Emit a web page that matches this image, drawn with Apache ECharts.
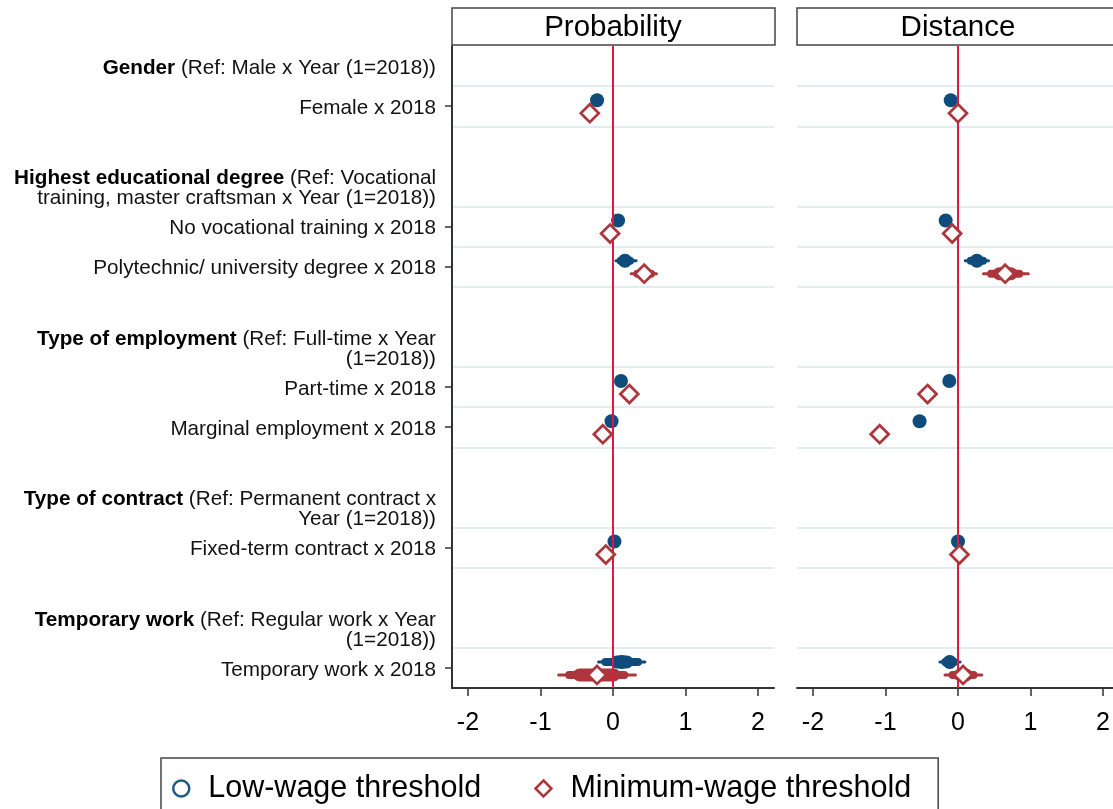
<!DOCTYPE html>
<html><head><meta charset="utf-8">
<script src="https://cdn.jsdelivr.net/npm/echarts@6/dist/echarts.min.js"></script>
<style>html,body{margin:0;padding:0;background:#fff}#c{width:1113px;height:809px}#err{position:absolute;left:0;top:0;font:11px monospace;color:#c00;white-space:pre;z-index:9}</style>
</head><body><div id="c"></div><div id="err"></div>
<script>
window.onerror = function (m, s, l, c, e) { document.getElementById('err').textContent += (e && e.stack ? e.stack : m) + '\n'; };
// ---------- data ----------
const panelTitles = ['Probability', 'Distance'];
const seriesNames = ['Low-wage threshold', 'Minimum-wage threshold'];
const groupTitles = ['Gender', 'Highest educational degree', 'Type of employment', 'Type of contract', 'Temporary work'];
const groupRefs = [
  '(Ref: Male x Year (1=2018))',
  '(Ref: Vocational\ntraining, master craftsman x Year (1=2018))',
  '(Ref: Full-time x Year\n(1=2018))',
  '(Ref: Permanent contract x\nYear (1=2018))',
  '(Ref: Regular work x Year\n(1=2018))'
];
const groupVars = [
  ['Female x 2018'],
  ['No vocational training x 2018', 'Polytechnic/ university degree x 2018'],
  ['Part-time x 2018', 'Marginal employment x 2018'],
  ['Fixed-term contract x 2018'],
  ['Temporary work x 2018']
];
const xTicks = [-2, -1, 0, 1, 2];
const refLine = 0;

// point estimates, one per variable row (order as listed above)
const probLow = [-0.22, 0.07, 0.165, 0.11, -0.02, 0.02, 0.12];
const probMin = [-0.32, -0.04, 0.43, 0.225, -0.14, -0.10, -0.22];
const distLow = [-0.10, -0.17, 0.26, -0.12, -0.53, 0.00, -0.115];
const distMin = [0.00, -0.08, 0.65, -0.42, -1.08, 0.02, 0.07];

// confidence intervals [lo99, lo95, lo90, hi90, hi95, hi99]
const probLowCI = [
  [-0.27, -0.26, -0.25, -0.19, -0.18, -0.17],
  [0.03, 0.04, 0.05, 0.09, 0.10, 0.11],
  [0.02, 0.05, 0.08, 0.26, 0.29, 0.34],
  [0.07, 0.08, 0.09, 0.13, 0.14, 0.15],
  [-0.06, -0.05, -0.04, 0.00, 0.01, 0.02],
  [-0.02, -0.01, 0.00, 0.04, 0.05, 0.06],
  [-0.22, -0.16, -0.04, 0.28, 0.40, 0.46]
];
const probMinCI = [
  [-0.36, -0.35, -0.34, -0.30, -0.29, -0.28],
  [-0.08, -0.07, -0.06, -0.02, -0.01, 0.00],
  [0.23, 0.28, 0.33, 0.53, 0.58, 0.62],
  [0.18, 0.19, 0.20, 0.25, 0.26, 0.27],
  [-0.19, -0.18, -0.17, -0.11, -0.10, -0.09],
  [-0.14, -0.13, -0.12, -0.08, -0.07, -0.06],
  [-0.77, -0.66, -0.55, 0.10, 0.21, 0.33]
];
const distLowCI = [
  [-0.14, -0.13, -0.12, -0.08, -0.07, -0.06],
  [-0.21, -0.20, -0.19, -0.15, -0.14, -0.13],
  [0.08, 0.12, 0.17, 0.35, 0.40, 0.44],
  [-0.16, -0.15, -0.14, -0.10, -0.09, -0.08],
  [-0.57, -0.56, -0.55, -0.51, -0.50, -0.49],
  [-0.04, -0.03, -0.02, 0.02, 0.03, 0.04],
  [-0.27, -0.23, -0.20, -0.03, 0.00, 0.05]
];
const distMinCI = [
  [-0.05, -0.04, -0.03, 0.03, 0.04, 0.05],
  [-0.13, -0.12, -0.11, -0.05, -0.04, -0.03],
  [0.33, 0.40, 0.48, 0.82, 0.90, 0.99],
  [-0.47, -0.46, -0.45, -0.39, -0.38, -0.37],
  [-1.13, -1.12, -1.11, -1.05, -1.04, -1.03],
  [-0.03, -0.02, -0.01, 0.05, 0.06, 0.07],
  [-0.20, -0.13, -0.06, 0.20, 0.27, 0.35]
];

// ---------- layout / style ----------
const FONT = '"Liberation Sans", Arial, Helvetica, sans-serif';
const BLUE = '#0f4c7c';
const RED = '#ad363c';
const ZERO = '#dc1a45';
const GRIDC = '#e3ecee';
const L = { top: 46, height: 642, w: 322, left: [452, 797], xMin: -2.22, xMax: 2.22 };

// build rows
const rowKeys = [], rowLabels = [], isVar = [], varRows = [];
groupTitles.forEach((t, g) => {
  rowKeys.push('r' + rowKeys.length); rowLabels.push('{b|' + t + '} ' + groupRefs[g]); isVar.push(false);
  groupVars[g].forEach(v => {
    varRows.push(rowKeys.length);
    rowKeys.push('r' + rowKeys.length); rowLabels.push(v); isVar.push(true);
  });
  if (g < groupTitles.length - 1) { rowKeys.push('r' + rowKeys.length); rowLabels.push(''); isVar.push(false); }
});

function ciItem(color, dy) {
  return function (params, api) {
    const row = api.value(0);
    const yc = api.coord([0, row])[1] + dy;
    const spec = [[1, 6, 3], [2, 5, 8], [3, 4, 13]];
    return {
      type: 'group',
      children: spec.map(s => {
        const x1 = api.coord([api.value(s[0]), row])[0];
        const x2 = api.coord([api.value(s[1]), row])[0];
        return { type: 'rect', shape: { x: x1, y: yc - s[2] / 2, width: Math.max(x2 - x1, 0), height: s[2], r: s[2] / 2 }, style: { fill: color } };
      })
    };
  };
}

const grids = [], xAxes = [], yAxes = [], series = [], graphics = [];
const panelData = [[probLow, probMin, probLowCI, probMinCI], [distLow, distMin, distLowCI, distMinCI]];
[0, 1].forEach(p => {
  grids.push({ left: L.left[p], top: L.top, width: L.w, height: L.height, containLabel: false, outerBoundsMode: 'none' });
  xAxes.push({
    type: 'value', gridIndex: p, min: L.xMin, max: L.xMax,
    axisLine: { show: true, onZero: false, lineStyle: { color: '#333', width: 2 } },
    axisTick: { show: true, length: 8, customValues: xTicks, lineStyle: { color: '#333', width: 1.5 } },
    axisLabel: { show: true, customValues: xTicks, fontSize: 25, fontFamily: FONT, color: '#000', margin: 23 },
    splitLine: { show: false }
  });
  yAxes.push({
    type: 'category', gridIndex: p, data: rowKeys, inverse: true,
    axisLine: { show: p === 0, onZero: false, lineStyle: { color: '#333', width: 2 } },
    axisTick: { show: p === 0, alignWithLabel: true, length: 7, interval: (i) => isVar[i], lineStyle: { color: '#333', width: 1.5 } },
    axisLabel: {
      show: p === 0, interval: 0, margin: 16, fontSize: 20.7, lineHeight: 20, fontFamily: FONT, color: '#111', align: 'right',
      padding: [4, 0, 0, 0],
      formatter: (v, i) => rowLabels[i],
      rich: { b: { fontWeight: 'bold', fontSize: 20.7, lineHeight: 20, fontFamily: FONT, color: '#000' } }
    },
    splitLine: { show: true, interval: (i) => isVar[i] || (i > 0 && isVar[i - 1]), lineStyle: { color: GRIDC, width: 2 } }
  });
  const [low, min, lowCI, minCI] = panelData[p];
  series.push({
    name: 'zero-' + p, type: 'scatter', xAxisIndex: p, yAxisIndex: p, z: 2, silent: true,
    symbolSize: 0, data: [],
    markLine: { silent: true, symbol: ['none', 'none'], label: { show: false }, animation: false,
      lineStyle: { color: ZERO, width: 2, type: 'solid' },
      data: [{ xAxis: refLine }] }
  });
  series.push({
    name: 'ci-low-' + p, type: 'custom', xAxisIndex: p, yAxisIndex: p, z: 3, silent: true,
    renderItem: ciItem(BLUE, -6),
    encode: { y: 0, x: [1, 2, 3, 4, 5, 6] },
    data: lowCI.map((c, k) => [varRows[k]].concat(c))
  });
  series.push({
    name: 'ci-min-' + p, type: 'custom', xAxisIndex: p, yAxisIndex: p, z: 3, silent: true,
    renderItem: ciItem(RED, 7),
    encode: { y: 0, x: [1, 2, 3, 4, 5, 6] },
    data: minCI.map((c, k) => [varRows[k]].concat(c))
  });
  series.push({
    name: seriesNames[0], type: 'scatter', xAxisIndex: p, yAxisIndex: p, z: 4,
    symbol: 'circle', symbolSize: 14, symbolOffset: [0, -6],
    itemStyle: { color: BLUE, opacity: 1 },
    data: low.map((v, k) => [v, varRows[k]])
  });
  series.push({
    name: seriesNames[1], type: 'scatter', xAxisIndex: p, yAxisIndex: p, z: 5,
    symbol: 'diamond', symbolSize: [18, 18], symbolOffset: [0, 7],
    itemStyle: { color: '#fff', borderColor: RED, borderWidth: 2.7, opacity: 1 },
    data: min.map((v, k) => [v, varRows[k]])
  });
  graphics.push({ type: 'rect', z: 10, shape: { x: L.left[p], y: 8, width: p === 0 ? L.w + 1 : L.w + 20, height: 37 }, style: { fill: '#fff', stroke: '#444', lineWidth: 1.5 } });
  graphics.push({ type: 'text', z: 11, x: L.left[p] + L.w / 2, y: 28, style: { text: panelTitles[p], fontSize: 29.5, fontFamily: FONT, fill: '#000', align: 'center', verticalAlign: 'middle' } });
});

const chart = echarts.init(document.getElementById('c'), null, { renderer: 'canvas' });
try {
chart.setOption({
  backgroundColor: '#fff',
  animation: false,
  grid: grids, xAxis: xAxes, yAxis: yAxes, series: series, graphic: graphics,
  legend: {
    left: 161, top: 758, orient: 'horizontal',
    padding: [15, 27, 40, 11], itemWidth: 16, itemHeight: 16, itemGap: 53,
    borderColor: '#444', borderWidth: 1.5, backgroundColor: '#fff',
    textStyle: { fontSize: 30.5, fontFamily: FONT, color: '#000', padding: [0, 0, 0, 14] },
    data: [
      { name: seriesNames[0], icon: 'circle', itemStyle: { color: '#fff', borderColor: '#1f5a87', borderWidth: 2.5 } },
      { name: seriesNames[1], icon: 'diamond', itemStyle: { color: '#fff', borderColor: RED, borderWidth: 2.5 } }
    ],
    selectedMode: false
  }
});
} catch (e) { document.getElementById('err').textContent += e.stack; }
</script></body></html>
